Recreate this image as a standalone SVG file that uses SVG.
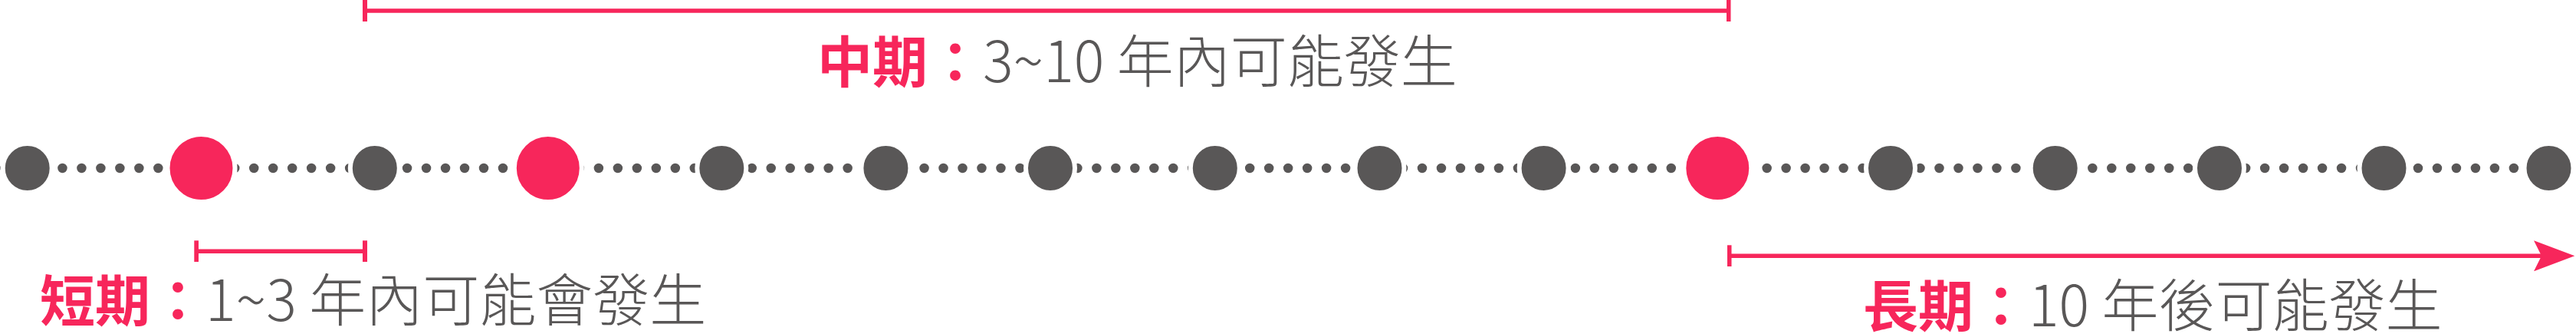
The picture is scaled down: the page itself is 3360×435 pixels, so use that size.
<svg xmlns="http://www.w3.org/2000/svg" width="3360" height="435" viewBox="0 0 3360 435">
<style>
.dots{fill:none;stroke:#595757;stroke-width:12.5;stroke-linecap:round;stroke-dasharray:0 24.98}
.node-g{fill:#595757;stroke:#fff;stroke-width:6}
.node-p{fill:#F7265B;stroke:#fff;stroke-width:6}
.span{fill:none;stroke:#F7265B;stroke-width:5.5}
.lbl{font-family:"Noto Sans CJK TC","Noto Sans CJK SC",sans-serif;font-size:72px}
.key{fill:#F7265B;font-weight:700}
.val{fill:#595757;font-weight:300;font-size:74px}
</style>
<defs>
<marker id="bar" viewBox="0 0 6 28" refX="3" refY="14" markerWidth="6" markerHeight="28" markerUnits="userSpaceOnUse" orient="auto">
<rect x="0" y="0" width="6" height="28" fill="#F7265B"/>
</marker>
<marker id="arrow" viewBox="0 0 54 40" refX="10" refY="20" markerWidth="54" markerHeight="40" markerUnits="userSpaceOnUse" orient="auto">
<path d="M0,0 L53.3,20 L0,40 L10,20 Z" fill="#F7265B"/>
</marker>
</defs>
<g id="connectors">
<path class="dots" d="M6.5,219 H3330"/>
<path id="span-short" class="span" d="M256.3,327.3 H476" marker-start="url(#bar)" marker-end="url(#bar)"/>
<path id="span-mid" class="span" d="M476,14 H2254.5" marker-start="url(#bar)" marker-end="url(#bar)"/>
<path id="span-long" class="span" d="M2255.5,333.3 H3315" marker-start="url(#bar)" marker-end="url(#arrow)"/>
</g>
<g id="n0"><circle class="node-g" cx="35.7" cy="219" r="32"/></g>
<g id="n1"><circle class="node-p" cx="262.5" cy="219" r="44"/></g>
<g id="n2"><circle class="node-g" cx="488.8" cy="219" r="32"/></g>
<g id="n3"><circle class="node-p" cx="714.8" cy="219" r="44"/></g>
<g id="n4"><circle class="node-g" cx="941.3" cy="219" r="32"/></g>
<g id="n5"><circle class="node-g" cx="1155.4" cy="219" r="32"/></g>
<g id="n6"><circle class="node-g" cx="1370" cy="219" r="32"/></g>
<g id="n7"><circle class="node-g" cx="1584.8" cy="219" r="32"/></g>
<g id="n8"><circle class="node-g" cx="1799.5" cy="219" r="32"/></g>
<g id="n9"><circle class="node-g" cx="2013.6" cy="219" r="32"/></g>
<g id="n10"><circle class="node-p" cx="2240.3" cy="219" r="44"/></g>
<g id="n11"><circle class="node-g" cx="2466" cy="219" r="32"/></g>
<g id="n12"><circle class="node-g" cx="2680.7" cy="219" r="32"/></g>
<g id="n13"><circle class="node-g" cx="2895" cy="219" r="32"/></g>
<g id="n14"><circle class="node-g" cx="3109.5" cy="219" r="32"/></g>
<g id="n15"><circle class="node-g" cx="3324.5" cy="219" r="32"/></g>
<g id="label-mid"><text class="lbl" x="1066" y="106.5"><tspan class="key">中期：</tspan><tspan class="val">3~10 年內可能發生</tspan></text></g>
<g id="label-short"><text class="lbl" x="52" y="418"><tspan class="key">短期：</tspan><tspan class="val">1~3 年內可能會發生</tspan></text></g>
<g id="label-long"><text class="lbl" x="2430" y="425"><tspan class="key">長期：</tspan><tspan class="val">10 年後可能發生</tspan></text></g>
</svg>
